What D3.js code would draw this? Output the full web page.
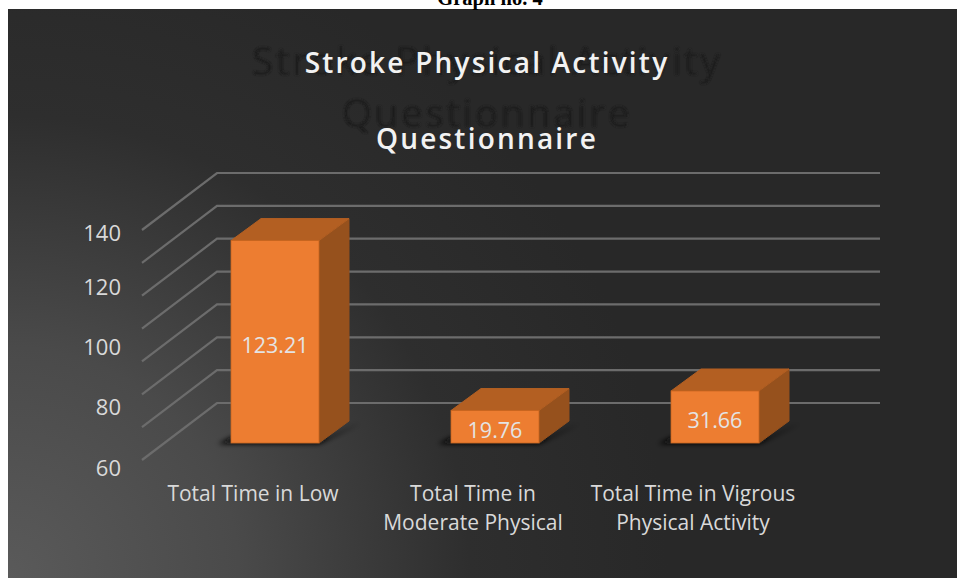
<!DOCTYPE html>
<html><head><meta charset="utf-8">
<script src="https://d3js.org/d3.v7.min.js"></script>
<style>html,body{margin:0;padding:0;background:#fff}svg{display:block}</style>
</head><body><svg id="c" width="957" height="578"></svg>
<script>
const categories = ["Total Time in Low", "Total Time in Moderate Physical", "Total Time in Vigrous Physical Activity"];
const categoryLines = [["Total Time in Low"], ["Total Time in", "Moderate Physical"], ["Total Time in Vigrous", "Physical Activity"]];
const values = [123.21, 19.76, 31.66];
const valueLabels = ["123.21", "19.76", "31.66"];
const gridTicks = [0, 20, 40, 60, 80, 100, 120, 140];
const tickLabels = [60, 80, 100, 120, 140];
const titleLines = ["Stroke Physical Activity", "Questionnaire"];

(function () {
const svg = d3.select("#c");
const defs = svg.append("defs");
const bg = defs.append("radialGradient").attr("id", "bg").attr("gradientUnits", "userSpaceOnUse")
  .attr("cx", 8).attr("cy", 578).attr("r", 660);
bg.append("stop").attr("offset", "0").attr("stop-color", "#5a5a5a");
bg.append("stop").attr("offset", "0.35").attr("stop-color", "#4a4a4a");
bg.append("stop").attr("offset", "0.7").attr("stop-color", "#2e2e2e");
bg.append("stop").attr("offset", "1").attr("stop-color", "#282828");
defs.append("filter").attr("id", "blur").attr("x", "-30%").attr("y", "-60%").attr("width", "160%").attr("height", "220%")
  .append("feGaussianBlur").attr("stdDeviation", 2.5);
defs.append("filter").attr("id", "tblur").append("feGaussianBlur").attr("stdDeviation", 0.9);
defs.append("filter").attr("id", "soft").attr("filterUnits", "userSpaceOnUse").attr("x", 0).attr("y", 0).attr("width", 957).attr("height", 578)
  .append("feGaussianBlur").attr("stdDeviation", 0.4);

svg.append("rect").attr("x", 8).attr("y", 9).attr("width", 949).attr("height", 569).attr("fill", "url(#bg)");

svg.append("text").attr("x", 490).attr("y", 5).attr("text-anchor", "middle")
  .attr("font-family", "Liberation Serif").attr("font-weight", "bold").attr("font-size", 20.5).attr("fill", "#000").text("Graph no. 4");

// scales
const y = d3.scaleLinear().domain([0, 140]).range([460, 230]);
const x = d3.scaleBand().domain(categories).range([165, 825]);
const depth = {left: 142, dx: 75, dy: -57, rightEnd: 880};
const bar = {width: 88, dx: 30, dy: -22, offY: -17};
const barX = i => x(categories[i]) + x.bandwidth() / 2 - bar.width / 2;

// shadow title
const ff = "'Open Sans','Noto Sans',sans-serif";
svg.append("g").selectAll("text").data(titleLines).join("text")
  .attr("x", 487).attr("y", (d, i) => [75, 127][i]).attr("text-anchor", "middle")
  .attr("font-family", ff).attr("font-size", 39).attr("letter-spacing", 2.4).attr("fill", "#1f1f1f")
  .attr("filter", "url(#tblur)").text(d => d);
svg.append("g").selectAll("text").data(titleLines).join("text")
  .attr("x", 487).attr("y", (d, i) => [73, 149][i]).attr("text-anchor", "middle")
  .attr("font-family", ff).attr("font-weight", 600).attr("font-size", 28).attr("letter-spacing", 2.2).attr("fill", "#f2f2f2").text(d => d);

// gridlines
svg.append("g").attr("filter", "url(#soft)").selectAll("path").data(gridTicks).join("path")
  .attr("fill", "none").attr("stroke", "#6c6c6c").attr("stroke-width", 2.2)
  .attr("d", d => d3.line()([[depth.left, y(d)], [depth.left + depth.dx, y(d) + depth.dy], [depth.rightEnd, y(d) + depth.dy]]));

// axis labels
const yLabel = d3.scaleLinear().domain([60, 120, 140]).range([468, 287, 233]);
svg.append("g").selectAll("text").data(tickLabels).join("text")
  .attr("x", 121).attr("y", d => yLabel(d)).attr("dy", "0.35em").attr("text-anchor", "end")
  .attr("font-family", ff).attr("font-size", 22).attr("fill", "#d9d9d9").text(d => d);

// bars
const g = svg.append("g").selectAll("g").data(values).join("g");
const base = y(0) + bar.offY;
const barTop = d => y(d) + bar.offY;
g.append("path").attr("fill", "#0c0c0c").attr("filter", "url(#blur)")
  .attr("d", (d, i) => { const l = barX(i); return d3.line()([[l - 13, base + 1], [l + bar.width, base + 1], [l + bar.width + bar.dx + 12, base + bar.dy + 2], [l + bar.width + 10, base - 6], [l, base - 6]]); });
g.append("path").attr("fill", "#96511d").attr("stroke", "#96511d")
  .attr("d", (d, i) => { const r = barX(i) + bar.width; return d3.line()([[r, barTop(d)], [r + bar.dx, barTop(d) + bar.dy], [r + bar.dx, base + bar.dy], [r, base]]) + "Z"; });
g.append("path").attr("fill", "#b35f22").attr("stroke", "#b35f22")
  .attr("d", (d, i) => { const l = barX(i); return d3.line()([[l, barTop(d)], [l + bar.dx, barTop(d) + bar.dy], [l + bar.width + bar.dx, barTop(d) + bar.dy], [l + bar.width, barTop(d)]]) + "Z"; });
g.append("rect").attr("x", (d, i) => barX(i)).attr("y", d => barTop(d)).attr("width", bar.width).attr("height", d => base - barTop(d))
  .attr("fill", "#ed7d31").attr("stroke", "#c8651f").attr("stroke-width", 0.8);
g.append("text").attr("x", (d, i) => barX(i) + bar.width / 2).attr("y", d => (barTop(d) + base) / 2 + 3.5)
  .attr("dy", "0.35em").attr("text-anchor", "middle").attr("font-family", ff).attr("font-size", 21.5).attr("fill", "#e4e4e4")
  .text((d, i) => valueLabels[i]);

// category labels
const catG = svg.append("g").selectAll("text").data(categoryLines).join("text")
  .attr("text-anchor", "middle").attr("font-family", ff).attr("font-size", 21).attr("fill", "#d9d9d9");
catG.each(function (lines, i) {
  d3.select(this).selectAll("tspan").data(lines).join("tspan")
    .attr("x", barX(i) + bar.width / 2 - 22)
    .attr("y", (d, j) => 501 + j * 29).text(d => d);
});
})();
</script></body></html>
